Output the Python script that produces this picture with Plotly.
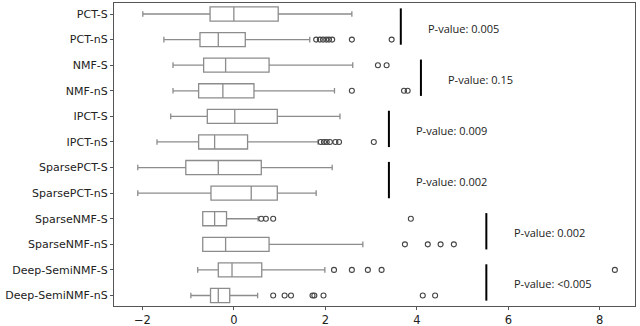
import plotly.graph_objects as go

methods = ["PCT-S", "PCT-nS", "NMF-S", "NMF-nS", "IPCT-S", "IPCT-nS",
           "SparsePCT-S", "SparsePCT-nS", "SparseNMF-S", "SparseNMF-nS",
           "Deep-SemiNMF-S", "Deep-SemiNMF-nS"]

# box statistics
lower = [-1.99, -1.53, -1.33, -1.33, -1.38, -1.68, -2.10, -2.10, -0.68, -0.68, -0.79, -0.94]
q1 = [-0.52, -0.74, -0.66, -0.77, -0.58, -0.77, -1.05, -0.50, -0.68, -0.68, -0.34, -0.51]
median = [0.00, -0.34, -0.18, -0.24, 0.02, -0.42, -0.34, 0.38, -0.42, -0.18, -0.04, -0.34]
q3 = [0.97, 0.25, 0.77, 0.44, 0.95, 0.30, 0.60, 0.95, -0.16, 0.77, 0.61, -0.09]
upper = [2.58, 1.66, 2.60, 2.20, 2.32, 1.84, 2.15, 1.80, 0.53, 2.82, 1.99, 0.52]

outliers = [
    [],
    [1.80, 1.88, 1.95, 2.02, 2.08, 2.15, 2.58, 3.45],
    [3.15, 3.34],
    [2.58, 3.72, 3.80],
    [],
    [1.90, 1.97, 2.03, 2.10, 2.22, 2.30, 3.06],
    [],
    [],
    [0.60, 0.70, 0.86, 3.87],
    [3.74, 4.24, 4.52, 4.81],
    [2.19, 2.58, 2.93, 3.23, 8.33],
    [0.86, 1.11, 1.25, 1.72, 1.76, 1.96, 4.13, 4.40],
]

# pairwise test results: (first row of the pair, line x, label)
pvalue_rows = [0, 2, 4, 6, 8, 10]
pvalue_x = [3.65, 4.09, 3.39, 3.39, 5.52, 5.52]
pvalue_text = ["P-value: 0.005", "P-value: 0.15", "P-value: 0.009",
               "P-value: 0.002", "P-value: 0.002", "P-value: <0.005"]

box_color = "#8c8c8c"

fig = go.Figure()

fig.add_trace(go.Box(
    y=methods,
    lowerfence=lower,
    q1=q1,
    median=median,
    q3=q3,
    upperfence=upper,
    orientation="h",
    boxpoints=False,
    width=0.55,
    whiskerwidth=0.4,
    fillcolor="rgba(0,0,0,0)",
    line=dict(color=box_color, width=1.3),
    showlegend=False,
    hoverinfo="skip",
))

ox, oy = [], []
for name, pts in zip(methods, outliers):
    for v in pts:
        ox.append(v)
        oy.append(name)

fig.add_trace(go.Scatter(
    x=ox, y=oy, mode="markers",
    marker=dict(symbol="circle-open", size=5, color="#444", line=dict(width=1.1)),
    showlegend=False,
))

for row, xv, txt in zip(pvalue_rows, pvalue_x, pvalue_text):
    fig.add_shape(type="line", xref="x", yref="y",
                  x0=xv, x1=xv, y0=row - 0.22, y1=row + 1.2,
                  line=dict(color="black", width=2))
    fig.add_annotation(x=xv + 0.55, y=row + 0.55, xref="x", yref="y",
                       text=txt, showarrow=False, xanchor="left", yanchor="middle",
                       font=dict(family="Open Sans", size=11, color="#222"))

fig.update_layout(
    width=640, height=326,
    margin=dict(l=114, r=5, t=3, b=20),
    plot_bgcolor="white",
    paper_bgcolor="white",
    font=dict(family="DejaVu Sans", size=11, color="#222"),
)

fig.update_xaxes(
    range=[-2.62, 8.77], tick0=0, dtick=2,
    showgrid=False, zeroline=False,
    showline=True, mirror=True, linecolor="#555", linewidth=1,
    ticks="outside", ticklen=3, tickcolor="#555",
    tickfont=dict(size=11.5),
    automargin=False,
)
fig.update_yaxes(
    categoryorder="array", categoryarray=methods,
    range=[11.41, -0.43],
    showgrid=False, zeroline=False,
    showline=True, mirror=True, linecolor="#555", linewidth=1,
    ticks="outside", ticklen=3, tickcolor="#555",
    automargin=False,
)

# the page's default body margin would shift the 640x326 figure off the window
fig.write_html("out.html", config={"displayModeBar": False},
               post_script="document.body.style.margin='0';")
